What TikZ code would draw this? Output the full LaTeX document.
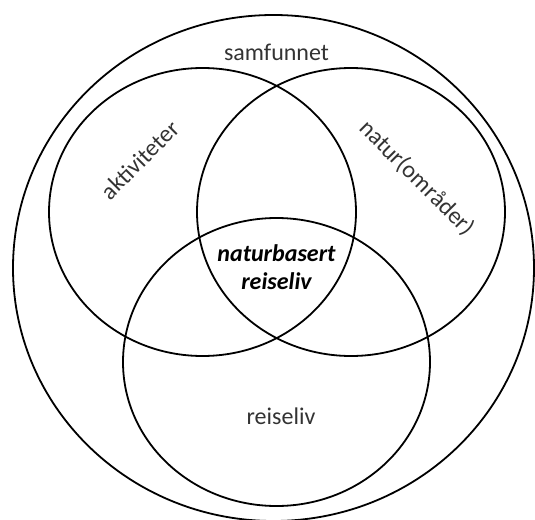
\documentclass[tikz,border=0pt]{standalone}
\usepackage{fontspec}
\setmainfont{Carlito}
\usetikzlibrary{positioning}
\tikzset{set/.style={line width=0.9pt},
  lbl/.style={font=\fontsize{12}{14}\selectfont,text=black!80}}
\begin{document}
\begin{tikzpicture}[x=0.5pt,y=-0.5pt]
\useasboundingbox (0,0) rectangle (535,519);
\draw[set] (273.5,268) ellipse [x radius=260.5,y radius=253];
\draw[set] (202.5,212) ellipse [x radius=153.5,y radius=144];
\draw[set] (351,212) ellipse [x radius=154,y radius=144];
\draw[set] (276.5,362) ellipse [x radius=153.5,y radius=144];
\node[lbl] (samf) at (276.5,52) {samfunnet};
\node[lbl,rotate=45] (akt) at (140,160) {aktiviteter};
\node[lbl,rotate=-45] (nat) at (417,178) {natur(områder)};
\node[lbl,font=\fontsize{12}{14}\selectfont\bfseries\itshape,text=black,align=center] (nbr) at (276.5,267) {naturbasert\\reiseliv};
\node[lbl] (reis) at (281,416) {reiseliv};
\end{tikzpicture}
\end{document}
